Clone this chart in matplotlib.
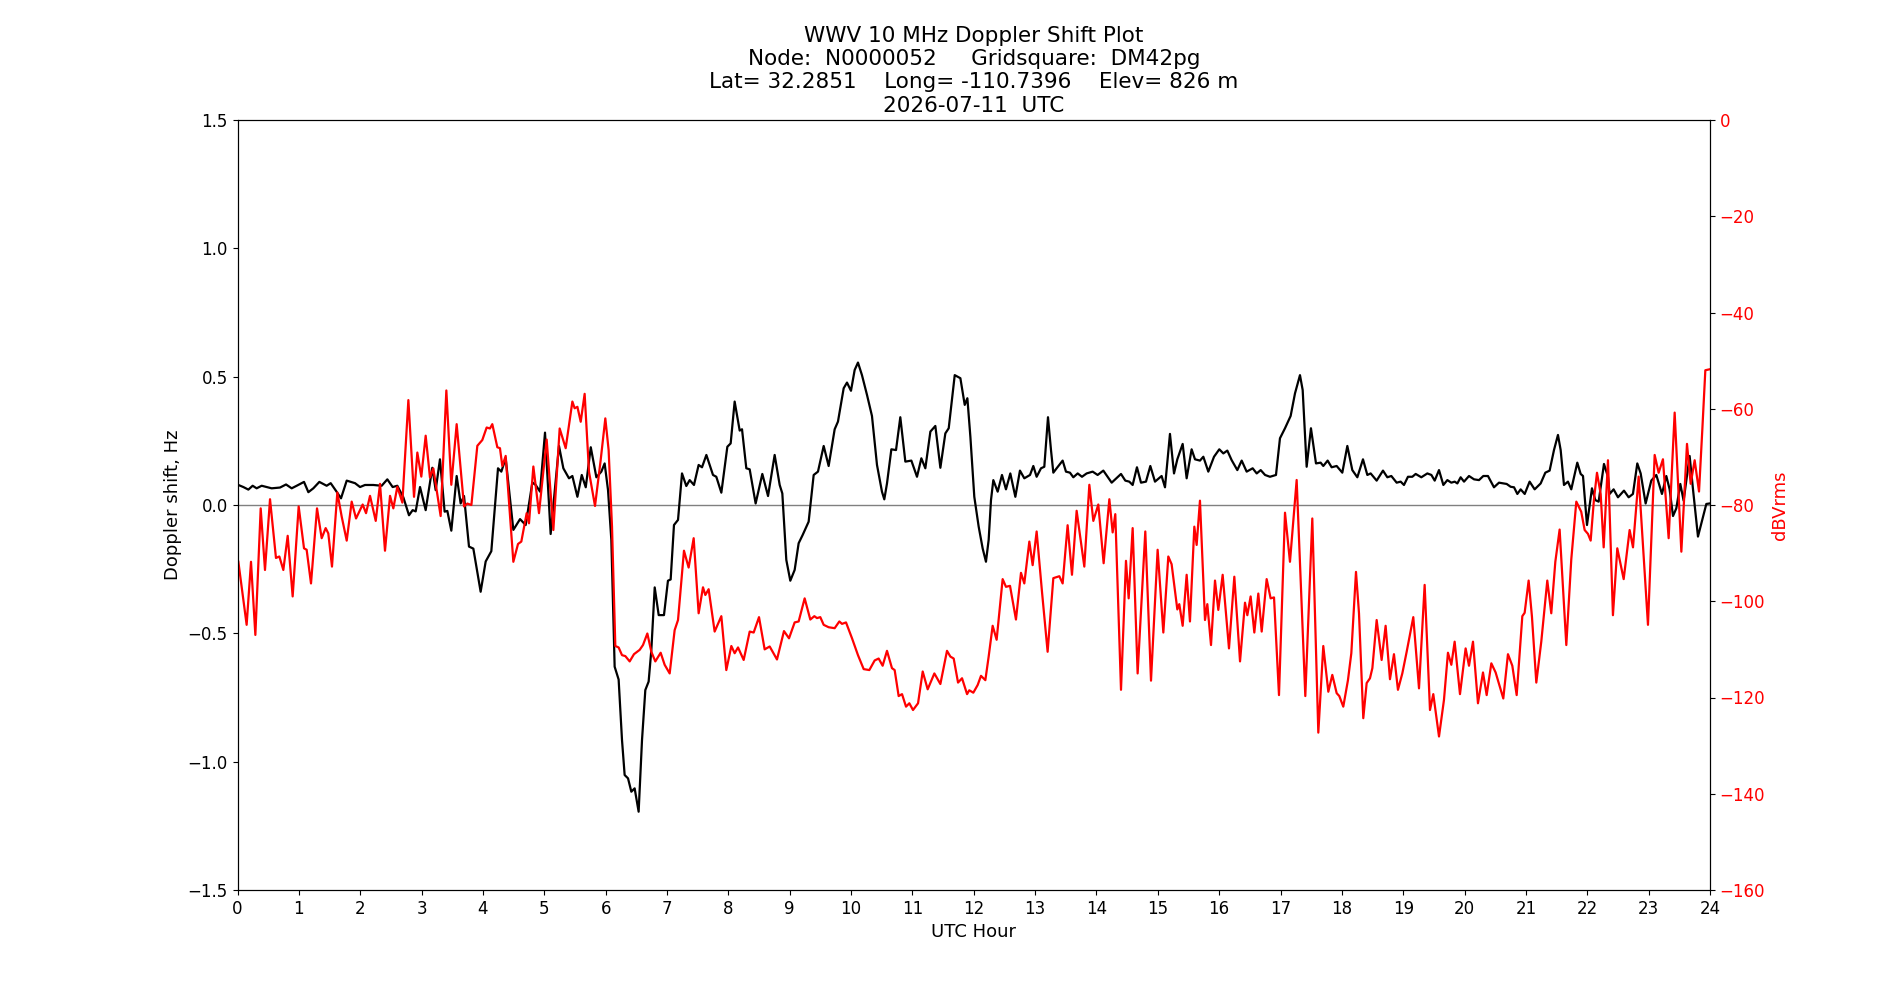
import matplotlib
matplotlib.use("Agg")
import matplotlib.pyplot as plt

# ---- data ----
dop_t = [0.014, 0.095, 0.177, 0.247, 0.312, 0.394, 0.475, 0.557, 0.693, 0.791, 0.883, 0.965,
         1.084, 1.155, 1.236, 1.334, 1.453, 1.519, 1.606, 1.687, 1.780, 1.916, 1.997, 2.078,
         2.214, 2.350, 2.442, 2.529, 2.605, 2.703, 2.795, 2.855, 2.904, 2.975,
         3.067, 3.175, 3.230, 3.300, 3.376, 3.420, 3.485, 3.572, 3.637, 3.692, 3.773, 3.844,
         3.963, 4.045, 4.137, 4.246, 4.300, 4.371, 4.496, 4.605, 4.697, 4.806, 4.860, 4.931,
         5.012, 5.104, 5.240, 5.311, 5.403, 5.458, 5.540, 5.611, 5.676, 5.758, 5.849,
         5.930, 5.984, 6.039, 6.093, 6.147, 6.212, 6.267, 6.310, 6.365, 6.419, 6.473, 6.538,
         6.593, 6.647, 6.701, 6.745, 6.800, 6.865, 6.951, 7.016, 7.060, 7.114, 7.180, 7.245,
         7.315, 7.370, 7.440, 7.516, 7.571, 7.642, 7.750, 7.804, 7.886, 7.984, 8.038, 8.103,
         8.185, 8.223, 8.293, 8.348, 8.445, 8.554, 8.647, 8.755, 8.837, 8.880, 8.945, 9.010, 9.081,
         9.146, 9.211, 9.309, 9.391, 9.461, 9.554, 9.635, 9.733, 9.787, 9.880, 9.934, 9.999,
         10.059, 10.113, 10.178, 10.260, 10.341, 10.423, 10.504, 10.542, 10.586, 10.657, 10.733,
         10.803, 10.885, 10.983, 11.075, 11.146, 11.211, 11.293, 11.374, 11.456, 11.537, 11.592,
         11.690, 11.782, 11.853, 11.896, 11.945,
         12.009, 12.080, 12.145, 12.199, 12.243, 12.281, 12.319, 12.390, 12.460, 12.525, 12.596,
         12.678, 12.753, 12.824, 12.917, 12.971, 13.025, 13.096, 13.150, 13.210, 13.259, 13.297,
         13.351, 13.449, 13.503, 13.568, 13.623, 13.694, 13.764, 13.840, 13.938, 14.019, 14.112,
         14.248, 14.400, 14.470, 14.535, 14.590, 14.660, 14.726, 14.807, 14.878, 14.954,
         15.062, 15.117, 15.198, 15.264, 15.318, 15.405, 15.470, 15.551, 15.606, 15.687, 15.742,
         15.823, 15.916, 16.002, 16.068, 16.133, 16.203, 16.296, 16.367, 16.448, 16.546, 16.612,
         16.677, 16.748, 16.828, 16.926, 16.991, 17.073, 17.165, 17.236, 17.317, 17.361, 17.426,
         17.496, 17.578, 17.654, 17.697, 17.768, 17.833, 17.915,
         18.007, 18.089, 18.170, 18.252, 18.344, 18.415, 18.469, 18.567, 18.670, 18.741, 18.806,
         18.893, 18.958, 19.012, 19.077, 19.148, 19.203, 19.295, 19.393, 19.459, 19.513, 19.583,
         19.654, 19.719, 19.784, 19.839, 19.882, 19.936, 19.991, 20.072, 20.154, 20.235, 20.305,
         20.381, 20.479, 20.561, 20.686, 20.751, 20.806, 20.860, 20.914, 20.980,
         21.060, 21.142, 21.240, 21.316, 21.386, 21.457, 21.522, 21.566, 21.620, 21.685, 21.739,
         21.837, 21.892, 21.930, 21.995, 22.076, 22.131, 22.185, 22.272, 22.337, 22.364, 22.429,
         22.500, 22.598, 22.674, 22.744, 22.815, 22.870, 22.951, 23.043, 23.125, 23.217, 23.288,
         23.342, 23.397, 23.451, 23.516, 23.570, 23.668, 23.723, 23.804, 23.875, 23.940, 23.994]
dop_hz = [0.078, 0.070, 0.060, 0.075, 0.065, 0.075, 0.070, 0.065, 0.068, 0.080, 0.065, 0.075,
          0.090, 0.050, 0.065, 0.090, 0.075, 0.085, 0.055, 0.026, 0.095, 0.085, 0.070, 0.078,
          0.078, 0.075, 0.100, 0.070, 0.075, 0.030, -0.040, -0.020, -0.025, 0.070,
          -0.020, 0.145, 0.058, 0.178, -0.026, -0.023, -0.100, 0.113, 0.006, 0.035, -0.162, -0.170,
          -0.338, -0.220, -0.180, 0.143, 0.130, 0.182, -0.097, -0.055, -0.078, 0.088, 0.078, 0.052,
          0.282, -0.113, 0.230, 0.143, 0.104, 0.113, 0.032, 0.117, 0.069, 0.225, 0.108,
          0.130, 0.162, 0.058, -0.136, -0.630, -0.680, -0.916, -1.052, -1.065, -1.117, -1.104, -1.195,
          -0.916, -0.721, -0.688, -0.565, -0.321, -0.429, -0.429, -0.295, -0.290, -0.078, -0.058, 0.123,
          0.074, 0.097, 0.078, 0.156, 0.147, 0.195, 0.117, 0.110, 0.048, 0.227, 0.240, 0.403,
          0.290, 0.295, 0.143, 0.139, 0.006, 0.121, 0.035, 0.195, 0.078, 0.045, -0.214, -0.295, -0.253,
          -0.149, -0.117, -0.065, 0.117, 0.130, 0.230, 0.152, 0.295, 0.325, 0.455, 0.477, 0.445,
          0.526, 0.555, 0.506, 0.429, 0.347, 0.156, 0.052, 0.022, 0.084, 0.217, 0.214,
          0.342, 0.169, 0.173, 0.110, 0.182, 0.143, 0.286, 0.308, 0.145, 0.279, 0.299,
          0.506, 0.494, 0.390, 0.416, 0.266,
          0.032, -0.084, -0.169, -0.221, -0.136, 0.019, 0.097, 0.052, 0.117, 0.061, 0.123,
          0.032, 0.134, 0.104, 0.117, 0.152, 0.110, 0.143, 0.149, 0.342, 0.214, 0.126,
          0.143, 0.173, 0.130, 0.126, 0.108, 0.123, 0.110, 0.123, 0.130, 0.117, 0.134,
          0.087, 0.121, 0.095, 0.091, 0.078, 0.147, 0.087, 0.091, 0.152, 0.091,
          0.113, 0.069, 0.277, 0.123, 0.178, 0.238, 0.104, 0.217, 0.178, 0.173, 0.188,
          0.130, 0.188, 0.217, 0.201, 0.212, 0.175, 0.136, 0.173, 0.130, 0.143, 0.123,
          0.136, 0.117, 0.110, 0.117, 0.260, 0.299, 0.347, 0.435, 0.506, 0.448, 0.149,
          0.299, 0.162, 0.165, 0.152, 0.173, 0.147, 0.152,
          0.126, 0.230, 0.136, 0.108, 0.178, 0.117, 0.123, 0.095, 0.134, 0.108, 0.113,
          0.087, 0.091, 0.078, 0.110, 0.110, 0.121, 0.108, 0.123, 0.117, 0.095, 0.136,
          0.078, 0.097, 0.087, 0.091, 0.084, 0.108, 0.091, 0.113, 0.100, 0.097, 0.113,
          0.113, 0.069, 0.087, 0.082, 0.071, 0.069, 0.043, 0.061, 0.043,
          0.091, 0.061, 0.084, 0.126, 0.134, 0.214, 0.273, 0.214, 0.078, 0.091, 0.061,
          0.165, 0.121, 0.113, -0.078, 0.065, 0.019, 0.013, 0.160, 0.110, 0.043, 0.061,
          0.030, 0.056, 0.030, 0.043, 0.162, 0.123, 0.006, 0.095, 0.117, 0.043, 0.113,
          0.061, -0.043, -0.013, 0.082, 0.017, 0.191, 0.061, -0.123, -0.056, 0.004, 0.006]

pwr_t = [0.014, 0.149, 0.220, 0.291, 0.378, 0.448, 0.530, 0.627, 0.682, 0.747, 0.818, 0.899,
         0.997, 1.084, 1.127, 1.198, 1.296, 1.372, 1.437, 1.480, 1.540, 1.627, 1.698, 1.780,
         1.861, 1.932, 2.040, 2.095, 2.160, 2.253, 2.323, 2.404, 2.486, 2.540, 2.605, 2.687, 2.785,
         2.877, 2.931, 2.996, 3.067, 3.137, 3.192, 3.311, 3.404, 3.485, 3.572, 3.692, 3.746,
         3.812, 3.909, 3.990, 4.061, 4.115, 4.153, 4.235, 4.278, 4.316, 4.371, 4.496, 4.572,
         4.626, 4.713, 4.751, 4.822, 4.914, 5.039, 5.148, 5.251, 5.349, 5.458, 5.495, 5.540,
         5.594, 5.658, 5.729, 5.827, 5.919,
         5.995, 6.049, 6.104, 6.158, 6.212, 6.267, 6.321, 6.392, 6.462, 6.555, 6.609, 6.680,
         6.745, 6.810, 6.897, 6.962, 7.044, 7.125, 7.180, 7.277, 7.353, 7.435, 7.516, 7.587,
         7.625, 7.679, 7.777, 7.886, 7.967, 8.049, 8.103, 8.158, 8.250, 8.348, 8.413, 8.500,
         8.592, 8.674, 8.793, 8.907, 8.989, 9.081,
         9.146, 9.244, 9.336, 9.402, 9.445, 9.499, 9.554, 9.635, 9.733, 9.809, 9.853, 9.918,
         10.016, 10.113, 10.206, 10.298, 10.385, 10.450, 10.515, 10.586, 10.667, 10.711, 10.776,
         10.831, 10.896, 10.950, 11.010, 11.092, 11.168, 11.249, 11.358, 11.456, 11.564, 11.619,
         11.673, 11.744, 11.809, 11.891,
         11.927, 11.993, 12.064, 12.118, 12.189, 12.243, 12.308, 12.373, 12.471, 12.525, 12.591,
         12.688, 12.770, 12.824, 12.906, 12.960, 13.025, 13.112, 13.204, 13.297, 13.395, 13.449,
         13.530, 13.601, 13.677, 13.802, 13.884, 13.949, 14.030, 14.117, 14.210, 14.264, 14.307,
         14.400, 14.481, 14.525, 14.590, 14.671, 14.796, 14.889, 14.997,
         15.090, 15.171, 15.225, 15.318, 15.350, 15.405, 15.470, 15.524, 15.595, 15.633, 15.687,
         15.769, 15.807, 15.867, 15.932, 15.986, 16.057, 16.160, 16.247, 16.340, 16.421, 16.459,
         16.513, 16.573, 16.638, 16.693, 16.774, 16.839, 16.894, 16.975, 17.073, 17.154, 17.263,
         17.404, 17.518, 17.616, 17.697, 17.779, 17.844, 17.915, 17.958,
         18.023, 18.099, 18.154, 18.230, 18.279, 18.349, 18.404, 18.458, 18.497, 18.567, 18.648,
         18.713, 18.784, 18.849, 18.914, 18.985, 19.056, 19.164, 19.257, 19.349, 19.436, 19.490,
         19.583, 19.664, 19.729, 19.784, 19.838, 19.925, 20.017, 20.072, 20.137, 20.218, 20.300,
         20.360, 20.436, 20.506, 20.631, 20.707, 20.778, 20.849, 20.941, 20.979,
         21.044, 21.098, 21.169, 21.250, 21.348, 21.413, 21.479, 21.549, 21.658, 21.739, 21.821,
         21.901, 21.957, 22.011, 22.055, 22.109, 22.158, 22.218, 22.267, 22.337, 22.418, 22.489,
         22.593, 22.690, 22.745, 22.837, 22.989, 23.098, 23.163, 23.233, 23.326, 23.424, 23.533,
         23.625, 23.685, 23.750, 23.821, 23.875, 23.924, 23.994]
pwr_db = [-91.8, -104.9, -91.8, -107.0, -80.7, -93.5, -78.8, -91.0, -90.7, -93.5, -86.4, -99.0,
          -80.3, -89.0, -89.3, -96.3, -80.7, -86.9, -84.8, -85.9, -92.8, -77.4, -82.4, -87.4,
          -79.3, -82.8, -79.9, -81.7, -78.1, -83.3, -75.6, -89.5, -78.1, -80.7, -76.2, -79.5, -58.2,
          -78.3, -69.1, -74.1, -65.6, -74.3, -72.4, -82.3, -56.2, -75.8, -63.2, -80.3, -79.7,
          -80.0, -67.7, -66.5, -63.9, -64.1, -63.2, -68.0, -68.2, -71.9, -69.8, -91.8, -88.1,
          -87.6, -81.7, -83.8, -72.0, -81.7, -66.4, -85.2, -64.1, -68.2, -58.5, -59.9, -59.6,
          -62.7, -56.9, -73.1, -80.2, -70.7,
          -62.0, -68.6, -84.5, -109.3, -109.6, -111.2, -111.4, -112.5, -111.0, -110.1, -109.1, -106.7,
          -110.5, -112.5, -110.7, -113.2, -115.0, -106.0, -103.9, -89.5, -93.0, -86.9, -102.5, -97.1,
          -98.7, -97.5, -106.3, -103.1, -114.3, -109.3, -110.8, -109.6, -112.2, -106.3, -106.5, -103.3,
          -110.0, -109.4, -112.1, -106.2, -107.7, -104.4,
          -104.2, -99.4, -103.8, -103.1, -103.5, -103.3, -104.9, -105.4, -105.6, -104.2, -104.7, -104.4,
          -107.7, -111.2, -114.1, -114.3, -112.3, -111.9, -113.4, -110.3, -113.9, -114.3, -119.7,
          -119.3, -121.9, -121.2, -122.6, -121.2, -114.6, -118.3, -115.0, -117.2, -110.3, -111.5,
          -111.9, -116.9, -116.0, -119.3,
          -118.5, -119.0, -117.4, -115.5, -116.4, -111.5, -105.1, -108.0, -95.4, -97.0, -96.8,
          -103.8, -94.1, -96.3, -87.6, -92.5, -85.5, -98.0, -110.5, -95.2, -94.8, -96.3,
          -84.2, -94.5, -81.2, -92.8, -75.8, -83.3, -79.9, -92.1, -78.8, -85.7, -81.9,
          -118.4, -91.6, -99.4, -84.8, -115.0, -85.5, -116.5, -89.3,
          -106.5, -90.7, -92.3, -101.7, -100.6, -105.1, -94.5, -104.2, -84.5, -88.3, -79.1,
          -103.9, -100.6, -109.1, -95.7, -101.8, -94.5, -109.8, -94.9, -112.5, -100.3, -102.9,
          -99.0, -106.5, -98.4, -106.3, -95.4, -99.4, -99.2, -119.5, -81.6, -91.8, -74.8,
          -119.7, -82.8, -127.3, -109.3, -118.8, -115.3, -119.1, -119.7,
          -121.9, -116.4, -110.8, -93.9, -102.5, -124.3, -117.0, -116.0, -113.9, -103.9, -112.2,
          -105.1, -116.2, -111.0, -118.4, -115.0, -110.5, -103.3, -118.1, -96.6, -122.6, -119.3,
          -128.1, -120.5, -110.7, -113.2, -108.4, -119.3, -109.8, -113.4, -108.4, -121.2, -114.8,
          -119.5, -112.9, -114.8, -120.2, -111.0, -113.4, -119.5, -103.1, -102.4,
          -95.7, -103.2, -116.9, -108.4, -95.7, -102.5, -91.8, -85.1, -109.1, -91.3, -79.3,
          -81.4, -85.2, -86.0, -87.4, -78.8, -73.3, -77.7, -88.8, -70.7, -102.9, -89.0,
          -95.4, -85.2, -88.8, -74.1, -104.9, -69.6, -73.3, -70.5, -86.9, -60.8, -89.7,
          -67.3, -75.6, -70.7, -77.2, -64.3, -52.0, -51.8]

hour_ticks = list(range(0, 25))
hz_ticks = [-1.5, -1.0, -0.5, 0.0, 0.5, 1.0, 1.5]
db_ticks = [-160, -140, -120, -100, -80, -60, -40, -20, 0]

title_lines = ["WWV 10 MHz Doppler Shift Plot",
               "Node:  N0000052     Gridsquare:  DM42pg",
               "Lat= 32.2851    Long= -110.7396    Elev= 826 m",
               "2026-07-11  UTC"]

# ---- plot ----
fig, ax = plt.subplots(figsize=(19, 10), dpi=100)
ax.axhline(0, color='gray', linewidth=1, zorder=1)
ax.plot(dop_t, dop_hz, color='black', linewidth=1.6, zorder=2)
ax.set_xlim(0, 24)
ax.set_ylim(-1.5, 1.5)
ax.set_xticks(hour_ticks)
ax.set_yticks(hz_ticks)
ax.tick_params(labelsize=12)
ax.set_xlabel("UTC Hour", fontsize=13)
ax.set_ylabel("Doppler shift, Hz", fontsize=13)
ax.set_title("\n".join(title_lines), fontsize=15.5)

ax2 = ax.twinx()
ax2.plot(pwr_t, pwr_db, color='red', linewidth=1.6)
ax2.set_ylim(-160, 0)
ax2.set_yticks(db_ticks)
ax2.tick_params(axis='y', labelsize=12, labelcolor='red')
ax2.set_ylabel("dBVrms", fontsize=13, color='red')

fig.savefig("out.png", dpi=100)
